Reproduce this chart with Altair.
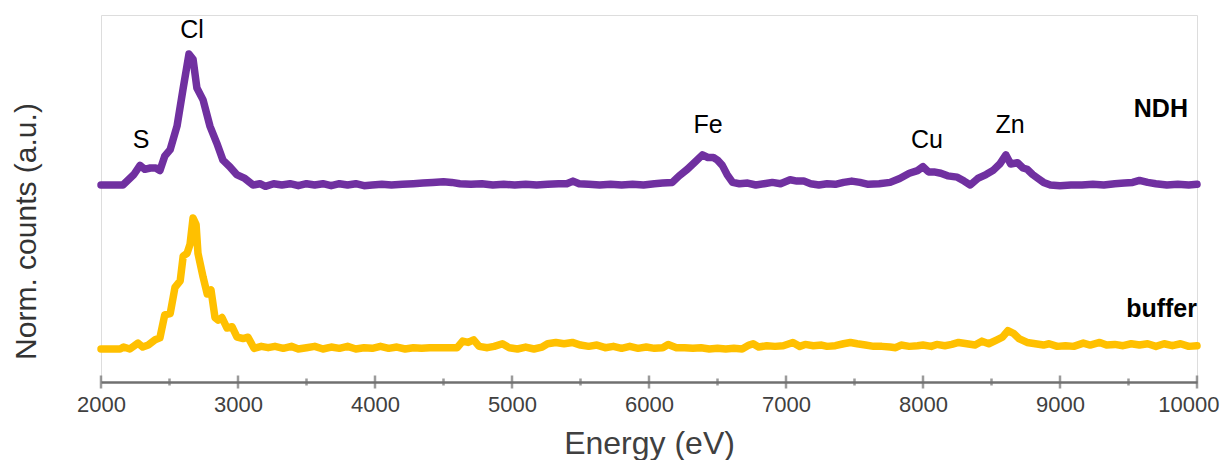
import altair as alt
import pandas as pd

# ---------------- data ----------------
energy_ndh = [2000, 2100, 2160, 2200, 2240, 2285, 2320, 2360, 2400, 2430, 2465, 2505, 2555, 2600,
              2642, 2672, 2700, 2745, 2795, 2845, 2890, 2940, 2990, 3050, 3110, 3160, 3200, 3260,
              3320, 3380, 3440, 3500, 3560, 3620, 3680, 3740, 3800, 3860, 3920, 3980, 4050, 4120,
              4200, 4280, 4350, 4420, 4500, 4560, 4620, 4700, 4780, 4860, 4940, 5020, 5100, 5180,
              5260, 5340, 5400, 5445, 5490, 5560, 5640, 5720, 5800, 5880, 5960, 6040, 6100, 6170,
              6220, 6280, 6340, 6390, 6430, 6470, 6500, 6535, 6570, 6610, 6660, 6720, 6780, 6840,
              6900, 6960, 7030, 7080, 7130, 7180, 7240, 7300, 7360, 7420, 7480, 7540, 7600, 7680,
              7760, 7830, 7900, 7960, 8000, 8040, 8080, 8130, 8180, 8250, 8300, 8345, 8400, 8460,
              8510, 8560, 8605, 8640, 8690, 8730, 8760, 8800, 8840, 8880, 8930, 9000, 9080, 9160,
              9240, 9320, 9400, 9470, 9530, 9580, 9640, 9700, 9780, 9860, 9940, 10000]
counts_ndh = [0.0, 0.0, 0.0, 0.04, 0.08, 0.15, 0.12, 0.13, 0.13, 0.11, 0.22, 0.27, 0.45, 0.74,
              1.0, 0.96, 0.74, 0.65, 0.45, 0.32, 0.19, 0.14, 0.08, 0.05, 0.0, 0.01, -0.01, 0.01,
              0.0, 0.01, -0.005, 0.01, 0.0, 0.01, -0.005, 0.01, 0.0, 0.01, -0.005, 0.0, 0.005, 0.0,
              0.005, 0.01, 0.015, 0.02, 0.025, 0.02, 0.01, 0.005, 0.01, 0.0, 0.005, 0.0, 0.005, 0.0,
              0.005, 0.01, 0.01, 0.03, 0.01, 0.005, 0.0, 0.005, 0.0, 0.005, 0.0, 0.01, 0.015, 0.02,
              0.07, 0.12, 0.18, 0.23, 0.21, 0.21, 0.19, 0.15, 0.08, 0.02, 0.01, 0.015, 0.0, 0.01,
              0.02, 0.01, 0.04, 0.03, 0.03, 0.01, 0.0, 0.01, 0.005, 0.02, 0.03, 0.02, 0.005, 0.01,
              0.02, 0.05, 0.09, 0.11, 0.14, 0.1, 0.1, 0.09, 0.07, 0.06, 0.03, 0.0, 0.05, 0.08,
              0.11, 0.16, 0.23, 0.16, 0.17, 0.13, 0.12, 0.08, 0.05, 0.02, 0.0, -0.005, 0.0, 0.0,
              0.005, 0.0, 0.01, 0.015, 0.02, 0.035, 0.02, 0.01, 0.0, 0.005, 0.0, 0.005]

energy_buffer = [2000, 2140, 2165, 2210, 2270, 2305, 2345, 2395, 2430, 2465, 2505, 2540, 2578, 2600,
                 2628, 2650, 2672, 2694, 2708, 2745, 2775, 2803, 2832, 2855, 2883, 2920, 2956, 2993,
                 3037, 3073, 3117, 3170, 3220, 3270, 3330, 3390, 3440, 3500, 3560, 3620, 3680, 3740,
                 3800, 3860, 3920, 3980, 4040, 4100, 4160, 4220, 4280, 4340, 4400, 4460, 4520, 4600,
                 4640, 4680, 4720, 4760, 4820, 4870, 4930, 4980, 5040, 5100, 5160, 5220, 5260, 5320,
                 5380, 5440, 5500, 5560, 5620, 5680, 5740, 5800, 5860, 5920, 5980, 6040, 6100, 6140,
                 6200, 6260, 6320, 6380, 6440, 6500, 6560, 6620, 6680, 6730, 6760, 6800, 6860, 6920,
                 6980, 7050, 7100, 7140, 7200, 7260, 7300, 7360, 7420, 7470, 7520, 7580, 7640, 7700,
                 7760, 7800, 7840, 7900, 7960, 8000, 8060, 8100, 8160, 8210, 8260, 8320, 8380, 8430,
                 8480, 8540, 8580, 8620, 8660, 8700, 8760, 8820, 8880, 8920, 8980, 9040, 9100, 9170,
                 9220, 9290, 9340, 9400, 9460, 9520, 9580, 9640, 9700, 9760, 9820, 9880, 9940, 10000]
counts_buffer = [0.0, 0.0, 0.015, 0.0, 0.045, 0.015, 0.03, 0.07, 0.085, 0.26, 0.27, 0.47, 0.52, 0.71,
                 0.73, 0.8, 1.0, 0.95, 0.73, 0.55, 0.42, 0.45, 0.24, 0.22, 0.24, 0.16, 0.17, 0.09,
                 0.08, 0.09, 0.005, 0.02, 0.01, 0.02, 0.005, 0.02, 0.0, 0.01, 0.02, 0.0, 0.015, 0.005,
                 0.02, 0.0, 0.01, 0.005, 0.02, 0.005, 0.015, 0.0, 0.01, 0.005, 0.01, 0.01, 0.01, 0.01,
                 0.06, 0.05, 0.07, 0.02, 0.01, 0.02, 0.04, 0.01, 0.0, 0.015, 0.0, 0.015, 0.04, 0.05,
                 0.04, 0.05, 0.03, 0.02, 0.03, 0.01, 0.02, 0.005, 0.02, 0.005, 0.015, 0.005, 0.01, 0.035,
                 0.01, 0.01, 0.005, 0.01, 0.0, 0.005, 0.0, 0.005, 0.0, 0.03, 0.04, 0.015, 0.025, 0.02,
                 0.025, 0.05, 0.02, 0.035, 0.025, 0.03, 0.02, 0.025, 0.04, 0.05, 0.04, 0.03, 0.02, 0.02,
                 0.015, 0.01, 0.03, 0.02, 0.025, 0.03, 0.02, 0.035, 0.025, 0.035, 0.05, 0.04, 0.03, 0.06,
                 0.04, 0.07, 0.09, 0.14, 0.12, 0.08, 0.05, 0.04, 0.03, 0.04, 0.02, 0.025, 0.02, 0.045,
                 0.03, 0.05, 0.03, 0.035, 0.025, 0.04, 0.03, 0.04, 0.02, 0.04, 0.025, 0.04, 0.02, 0.025]

series_names = ["NDH", "buffer"]
series_colors = ["#7030A0", "#FFC000"]
series_offsets = [1.252, 0.0]

peak_labels = ["S", "Cl", "Fe", "Cu", "Zn"]
peak_label_energy = [2292, 2664, 6431, 8029, 8635]
peak_label_y = [1.534, 2.374, 1.649, 1.534, 1.649]

series_label_energy = [9934, 10000]
series_label_y = [1.771, 0.244]

tick_energy = [2000, 2500, 3000, 3500, 4000, 4500, 5000, 5500, 6000,
               6500, 7000, 7500, 8000, 8500, 9000, 9500, 10000]
label_energy = [2000, 3000, 4000, 5000, 6000, 7000, 8000, 9000, 10000]

# ---------------- tables ----------------
rows = []
for name, off, ex, cy in [("NDH", series_offsets[0], energy_ndh, counts_ndh),
                          ("buffer", series_offsets[1], energy_buffer, counts_buffer)]:
    for e, c in zip(ex, cy):
        rows.append({"energy": e, "counts": c + off, "sample": name})
spec = pd.DataFrame(rows)

peaks = pd.DataFrame({"energy": peak_label_energy, "y": peak_label_y, "label": peak_labels})
slabels = pd.DataFrame({"energy": series_label_energy, "y": series_label_y, "label": series_names})
ticks = pd.DataFrame({"energy": tick_energy,
                      "len": [13 if e in label_energy else 7 for e in tick_energy]})

FONT = "Liberation Sans"
AXIS_GRAY = "#707070"

xscale = alt.Scale(domain=[2000, 10000], nice=False, zero=False)
yscale = alt.Scale(domain=[-0.252, 2.55], nice=False, zero=False)

last_label = alt.datum.value == 10000
xaxis = alt.Axis(values=label_energy, format="d", ticks=False, grid=False, labelFlush=False,
                 domainColor=AXIS_GRAY, domainWidth=2.5,
                 labelFont=FONT, labelFontSize=22, labelColor="#404040", labelPadding=12,
                 labelAlign=alt.condition(last_label, alt.value("right"), alt.value("center")),
                 labelOffset=alt.condition(last_label, alt.value(22), alt.value(0)),
                 title="Energy (eV)", titleFont=FONT, titleFontSize=32, titleFontWeight="normal",
                 titleColor="#404040", titleBaseline="alphabetic", titleY=71)
yaxis = alt.Axis(domain=False, ticks=False, labels=False, grid=False,
                 title="Norm. counts (a.u.)", titleFont=FONT, titleFontSize=30,
                 titleFontWeight="normal", titleColor="#333333",
                 titleBaseline="alphabetic", titleAlign="center", titleAngle=270,
                 titleX=-66, titleY=216)

lines = alt.Chart(spec).mark_line(strokeWidth=7.5, strokeJoin="round", strokeCap="round").encode(
    x=alt.X("energy:Q", scale=xscale, axis=xaxis),
    y=alt.Y("counts:Q", scale=yscale, axis=yaxis),
    color=alt.Color("sample:N", scale=alt.Scale(domain=series_names, range=series_colors), legend=None),
    detail="sample:N",
)

tick_layer = alt.Chart(ticks).mark_tick(orient="vertical", thickness=2.5, color=AXIS_GRAY).encode(
    x=alt.X("energy:Q", scale=xscale),
    y=alt.value(367),
    size=alt.Size("len:Q", scale=None, legend=None),
)

peak_text = alt.Chart(peaks).mark_text(font=FONT, fontSize=25, color="#000000",
                                       align="center", baseline="alphabetic").encode(
    x=alt.X("energy:Q", scale=xscale),
    y=alt.Y("y:Q", scale=yscale),
    text="label:N",
)

series_text = alt.Chart(slabels).mark_text(font=FONT, fontSize=25, fontWeight="bold", color="#000000",
                                           align="right", baseline="alphabetic").encode(
    x=alt.X("energy:Q", scale=xscale),
    y=alt.Y("y:Q", scale=yscale),
    text="label:N",
)

chart = alt.layer(lines, tick_layer, peak_text, series_text).properties(
    width=1096, height=367,
    autosize=alt.AutoSizeParams(type="none"),
    padding={"left": 93, "top": 7, "right": 23, "bottom": 78},
).configure_view(stroke=None).configure(background="white")

chart.save("out.html", embed_options={"renderer": "svg", "actions": False})
